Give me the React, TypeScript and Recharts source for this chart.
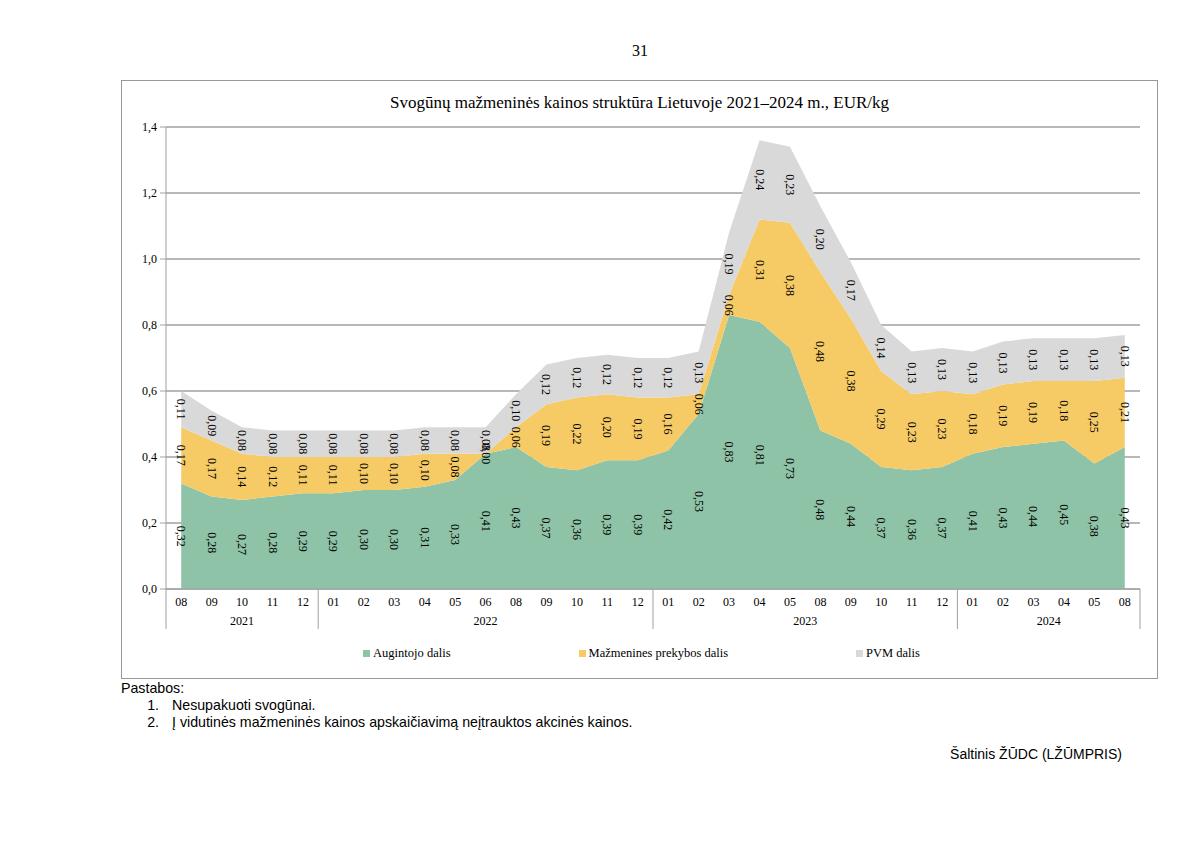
import {
  Area,
  CartesianGrid,
  ComposedChart,
  LabelList,
  Legend,
  Line,
  XAxis,
  YAxis,
} from "recharts";

const months = [
  "08", "09", "10", "11", "12",
  "01", "02", "03", "04", "05", "06", "08", "09", "10", "11", "12",
  "01", "02", "03", "04", "05", "08", "09", "10", "11", "12",
  "01", "02", "03", "04", "05", "08",
];
const yearLabels = ["2021", "2022", "2023", "2024"];
const yearSizes = [5, 11, 10, 6];

const grower = [
  0.32, 0.28, 0.27, 0.28, 0.29,
  0.29, 0.3, 0.3, 0.31, 0.33, 0.41, 0.43, 0.37, 0.36, 0.39, 0.39,
  0.42, 0.53, 0.83, 0.81, 0.73, 0.48, 0.44, 0.37, 0.36, 0.37,
  0.41, 0.43, 0.44, 0.45, 0.38, 0.43,
];
const retail = [
  0.17, 0.17, 0.14, 0.12, 0.11,
  0.11, 0.1, 0.1, 0.1, 0.08, 0.0, 0.06, 0.19, 0.22, 0.2, 0.19,
  0.16, 0.06, 0.06, 0.31, 0.38, 0.48, 0.38, 0.29, 0.23, 0.23,
  0.18, 0.19, 0.19, 0.18, 0.25, 0.21,
];
const vat = [
  0.11, 0.09, 0.08, 0.08, 0.08,
  0.08, 0.08, 0.08, 0.08, 0.08, 0.08, 0.1, 0.12, 0.12, 0.12, 0.12,
  0.12, 0.13, 0.19, 0.24, 0.23, 0.2, 0.17, 0.14, 0.13, 0.13,
  0.13, 0.13, 0.13, 0.13, 0.13, 0.13,
];
const yTicks = [0, 0.2, 0.4, 0.6, 0.8, 1.0, 1.2, 1.4];
const seriesNames = ["Augintojo dalis", "Mažmenines prekybos dalis", "PVM dalis"];

const GREEN = "#8EC3A7";
const YELLOW = "#F6CB66";
const GREY = "#D9D9D9";
const LINE = "#A0A0A0";
const SERIF = "Liberation Serif, Times New Roman, serif";
const SANS = "Liberation Sans, Arial, sans-serif";

// chart geometry (inside the framed box)
const CHART_W = 1037;
const CHART_H = 599;
const Y_AXIS_W = 45;
const MARGIN = { top: 47, right: 18, left: 0, bottom: 14 };
const STEP = (CHART_W - Y_AXIS_W - MARGIN.left - MARGIN.right) / months.length;

const yearOf: string[] = [];
const groupStart: Record<number, number> = {};
{
  let idx = 0;
  yearSizes.forEach((n, gi) => {
    groupStart[idx] = gi;
    for (let k = 0; k < n; k++) yearOf.push(yearLabels[gi]);
    idx += n;
  });
}

const data = months.map((m, i) => ({
  id: `${yearOf[i]}-${m}`,
  g: grower[i],
  r: retail[i],
  v: vat[i],
  gMid: grower[i] / 2,
  rMid: grower[i] + retail[i] / 2,
  vMid: grower[i] + retail[i] + vat[i] / 2,
}));

const fmt = (v: number) => v.toFixed(2).replace(".", ",");
const textStyle = { fontFamily: SERIF, fontSize: 12 };

const RotLabel = (props: any) => {
  const { x, y, value } = props;
  if (x == null || y == null) return null;
  return (
    <text
      x={x}
      y={y}
      transform={`rotate(90 ${x} ${y})`}
      textAnchor="middle"
      dominantBaseline="central"
      style={textStyle}
      fill="#000"
    >
      {fmt(Number(value))}
    </text>
  );
};

const MonthTick = (props: any) => {
  const { x, y, payload, index } = props;
  const label = String(payload.value).split("-")[1];
  const gi = groupStart[index];
  const isLast = index === months.length - 1;
  return (
    <g>
      <text
        x={x}
        y={y + 13}
        textAnchor="middle"
        dominantBaseline="central"
        style={textStyle}
        fill="#000"
      >
        {label}
      </text>
      {gi !== undefined && (
        <>
          <line
            x1={x - STEP / 2}
            x2={x - STEP / 2}
            y1={y}
            y2={y + 40}
            stroke={LINE}
          />
          <text
            x={x + ((yearSizes[gi] - 1) * STEP) / 2}
            y={y + 32}
            textAnchor="middle"
            dominantBaseline="central"
            style={textStyle}
            fill="#000"
          >
            {yearLabels[gi]}
          </text>
        </>
      )}
      {isLast && (
        <line
          x1={x + STEP / 2}
          x2={x + STEP / 2}
          y1={y}
          y2={y + 40}
          stroke={LINE}
        />
      )}
    </g>
  );
};

const LegendContent = () => {
  const colors = [GREEN, YELLOW, GREY];
  return (
    <div
      style={{
        display: "flex",
        justifyContent: "center",
        gap: 128,
        height: 24,
        alignItems: "center",
        fontFamily: SERIF,
        fontSize: 12.5,
        color: "#000",
        paddingLeft: 22,
      }}
    >
      {seriesNames.map((n, i) => (
        <div key={n} style={{ display: "flex", alignItems: "center" }}>
          <span
            style={{
              width: 7,
              height: 7,
              background: colors[i],
              display: "inline-block",
              marginRight: 3,
            }}
          />
          {n}
        </div>
      ))}
    </div>
  );
};

export default function App() {
  return (
    <div
      style={{
        position: "absolute",
        left: 0,
        top: 0,
        width: 1200,
        height: 849,
        background: "#fff",
      }}
    >
      <div
        style={{
          position: "absolute",
          left: 0,
          width: 1280,
          top: 42,
          textAlign: "center",
          fontFamily: SERIF,
          fontSize: 16,
        }}
      >
        31
      </div>

      <div
        style={{
          position: "absolute",
          left: 121,
          top: 80,
          width: CHART_W,
          height: CHART_H,
          border: "1px solid #999",
          boxSizing: "border-box",
        }}
      >
        <div
          style={{
            position: "absolute",
            left: 0,
            right: 0,
            top: 12,
            textAlign: "center",
            fontFamily: SERIF,
            fontSize: 17,
            color: "#000",
          }}
        >
          Svogūnų mažmeninės kainos struktūra Lietuvoje 2021–2024 m., EUR/kg
        </div>
        <div style={{ position: "absolute", left: -1, top: -1 }}>
          <ComposedChart
            width={CHART_W}
            height={CHART_H}
            data={data}
            margin={MARGIN}
          >
            <CartesianGrid
              vertical={false}
              stroke={LINE}
              strokeWidth={1.5}
              horizontalValues={yTicks}
            />
            <XAxis
              dataKey="id"
              interval={0}
              padding={{ left: STEP / 2, right: STEP / 2 }}
              tickLine={false}
              tickSize={0}
              tickMargin={0}
              height={52}
              axisLine={{ stroke: LINE }}
              tick={<MonthTick />}
            />
            <YAxis
              width={Y_AXIS_W}
              domain={[0, 1.4]}
              ticks={yTicks}
              tickFormatter={(v: number) => v.toFixed(1).replace(".", ",")}
              axisLine={{ stroke: LINE }}
              tickLine={{ stroke: LINE }}
              tickSize={6}
              tickMargin={3}
              tick={{ style: textStyle, fill: "#000" }}
            />
            <Legend verticalAlign="bottom" height={24} content={<LegendContent />} />
            <Area
              type="linear"
              dataKey="g"
              stackId="s"
              stroke="none"
              fill={GREEN}
              fillOpacity={1}
              name={seriesNames[0]}
              isAnimationActive={false}
            />
            <Area
              type="linear"
              dataKey="r"
              stackId="s"
              stroke="none"
              fill={YELLOW}
              fillOpacity={1}
              name={seriesNames[1]}
              isAnimationActive={false}
            />
            <Area
              type="linear"
              dataKey="v"
              stackId="s"
              stroke="none"
              fill={GREY}
              fillOpacity={1}
              name={seriesNames[2]}
              isAnimationActive={false}
            />
            <Line
              dataKey="gMid"
              stroke="none"
              dot={false}
              activeDot={false}
              legendType="none"
              isAnimationActive={false}
            >
              <LabelList dataKey="g" content={<RotLabel />} />
            </Line>
            <Line
              dataKey="rMid"
              stroke="none"
              dot={false}
              activeDot={false}
              legendType="none"
              isAnimationActive={false}
            >
              <LabelList dataKey="r" content={<RotLabel />} />
            </Line>
            <Line
              dataKey="vMid"
              stroke="none"
              dot={false}
              activeDot={false}
              legendType="none"
              isAnimationActive={false}
            >
              <LabelList dataKey="v" content={<RotLabel />} />
            </Line>
          </ComposedChart>
        </div>
      </div>

      <div
        style={{
          position: "absolute",
          left: 121,
          top: 680,
          fontFamily: SANS,
          fontSize: 14.2,
          lineHeight: "17px",
          color: "#000",
        }}
      >
        <div>Pastabos:</div>
        <div style={{ display: "flex" }}>
          <span style={{ width: 38, textAlign: "right" }}>1.</span>
          <span style={{ marginLeft: 13 }}>Nesupakuoti svogūnai.</span>
        </div>
        <div style={{ display: "flex" }}>
          <span style={{ width: 38, textAlign: "right" }}>2.</span>
          <span style={{ marginLeft: 13 }}>
            Į vidutinės mažmeninės kainos apskaičiavimą neįtrauktos akcinės kainos.
          </span>
        </div>
      </div>

      <div
        style={{
          position: "absolute",
          right: 78,
          top: 746,
          fontFamily: SANS,
          fontSize: 14,
          color: "#000",
        }}
      >
        Šaltinis ŽŪDC (LŽŪMPRIS)
      </div>
    </div>
  );
}
